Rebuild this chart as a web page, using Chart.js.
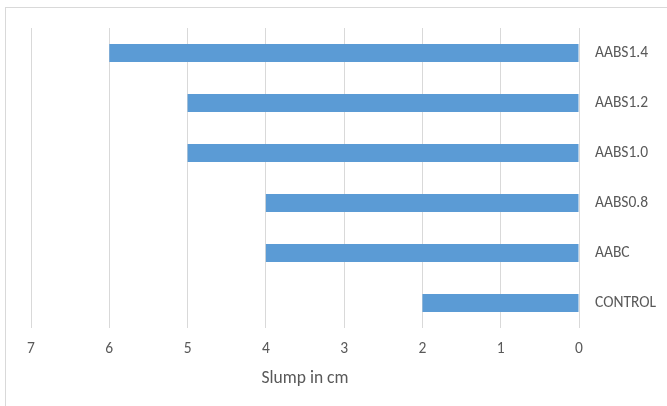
<!DOCTYPE html>
<html>
<head>
<meta charset="utf-8">
<script src="https://cdn.jsdelivr.net/npm/chart.js@4"></script>
<style>
  html, body { margin: 0; padding: 0; background: #fff; overflow: hidden; }
  #wrap { position: relative; width: 667px; height: 406px; }
  #frame { position: absolute; left: 5px; top: 7px; width: 700px; height: 450px;
           border-left: 1px solid #d9d9d9; border-top: 1px solid #d9d9d9; pointer-events: none; }
  canvas { position: absolute; left: 0; top: 0; }
</style>
</head>
<body>
<div id="wrap">
  <canvas id="c" width="667" height="406"></canvas>
  <div id="frame"></div>
</div>
<script>
// Mix designations (top to bottom) and their slump values in cm
const categories = ["AABS1.4", "AABS1.2", "AABS1.0", "AABS0.8", "AABC", "CONTROL"];
const slump = [6, 5, 5, 4, 4, 2];
const axisTitle = "Slump in cm";

const FONT = "Carlito, Calibri, Lato, sans-serif";
const TEXT = "#595959";

new Chart(document.getElementById("c"), {
  type: "bar",
  data: {
    labels: categories,
    datasets: [{
      data: slump,
      backgroundColor: "#5b9bd5",
      borderWidth: 0,
      barPercentage: 0.36,
      categoryPercentage: 1
    }]
  },
  options: {
    indexAxis: "y",
    responsive: false,
    animation: false,
    layout: { padding: { left: 31, top: 28, right: 0, bottom: 0 } },
    plugins: { legend: { display: false }, tooltip: { enabled: false } },
    scales: {
      x: {
        reverse: true,
        min: 0,
        max: 7,
        ticks: { stepSize: 1, padding: 12, color: TEXT, font: { family: FONT, size: 15.5 } },
        grid: { color: "#d9d9d9", lineWidth: 1, drawTicks: false },
        border: { display: false },
        title: { display: true, text: axisTitle, color: TEXT,
                 font: { family: FONT, size: 17.5 }, padding: { top: 0, bottom: 17 } },
        afterFit(scale) { scale.height = 78; }
      },
      y: {
        position: "right",
        ticks: { padding: 16, color: TEXT, font: { family: FONT, size: 15.5 } },
        grid: { display: false, drawTicks: false },
        border: { display: false },
        afterFit(scale) { scale.width = 88; }
      }
    }
  }
});
</script>
</body>
</html>
